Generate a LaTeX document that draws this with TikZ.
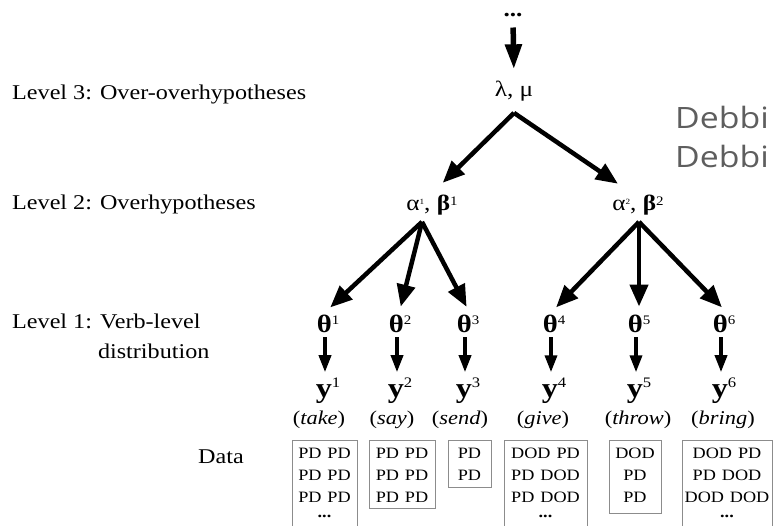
\documentclass[tikz,border=0pt]{standalone}
\usepackage{fontspec}
\setmainfont[FakeStretch=1.15]{Liberation Serif}
\newfontfamily\wmfont[FakeStretch=1.15]{Open Sans}
\usetikzlibrary{arrows.meta}
\definecolor{boxline}{HTML}{8C8C8C}
\definecolor{wmgray}{HTML}{5E5E5E}
\newcommand{\upidx}[3]{\raisebox{#1}{\fontsize{#2}{#2}\selectfont\mdseries #3}}
\newcommand{\rows}[1]{\spaceskip=0.38em\relax\begin{tabular}[t]{@{}c@{}}#1\end{tabular}}

\begin{document}
\begin{tikzpicture}[x=1pt, y=-1pt,
  every node/.style={inner sep=2pt},
  lvl/.style={anchor=base west, align=left, inner sep=0pt,
              font=\fontsize{21}{30}\selectfont},
  hyp/.style={anchor=base, font=\fontsize{22}{22}\selectfont},
  th/.style={anchor=base, inner sep=3pt, outer sep=2pt,
             font=\fontsize{25}{25}\selectfont\bfseries},
  obs/.style={anchor=base, inner sep=5pt,
              font=\fontsize{28}{28}\selectfont\bfseries},
  verb/.style={anchor=base, font=\fontsize{19.5}{19.5}\selectfont},
  databox/.style={anchor=base, draw=boxline, line width=0.9pt,
                  inner xsep=0pt, inner ysep=0pt, text height=18pt,
                  font=\fontsize{15.8}{22}\selectfont},
  artop/.style={-{Triangle[width=16pt,length=25pt]}, line width=5.5pt},
  ar/.style={-{Triangle[width=18pt,length=22pt]}, line width=4.5pt},
  arsm/.style={-{Triangle[width=12pt,length=17pt]}, line width=3.5pt}
]
\path[use as bounding box, clip] (0,0) rectangle (775,526);

% level labels
\node[lvl] (lv3) at (12,100) {Level 3: Over-overhypotheses};
\node[lvl] (lv2) at (12,210) {Level 2: Overhypotheses};
\node[lvl] (lv1) at (12,358) {Level 1: Verb-level\\\phantom{Level 1:} distribution};
\node[lvl, anchor=base] (data) at (221,463) {Data};

\node[anchor=base west, align=left, inner sep=0pt, text=wmgray,
  font=\wmfont\fontsize{29.4}{39}\selectfont] (wm) at (675,168) {Debbi\\Debbi};

% hyperparameters
\node[hyp, font=\fontsize{22}{22}\selectfont\bfseries] (topdots) at (513,17) {...};
\node[hyp] (lam) at (514,97) {λ, μ};
\node[hyp] (ab1) at (432,211) {α\upidx{6pt}{8}{1}, \textbf{β}\upidx{5pt}{13}{1}};
\node[hyp] (ab2) at (638,211) {α\upidx{6pt}{8}{2}, \textbf{β}\upidx{5pt}{13}{2}};

\coordinate (lamfork) at ([yshift=-9pt]lam.south);
\coordinate (abfork1) at ([xshift=-10pt,yshift=-4pt]ab1.south);
\coordinate (abfork2) at ([xshift=1pt,yshift=-4pt]ab2.south);

\draw[artop, shorten <=8pt, shorten >=10pt] (topdots.south) -- (lam.north);
\draw[ar, shorten >=15pt] (lamfork) -- (ab1.north);
\draw[ar, shorten >=17pt] (lamfork) -- ([xshift=-6pt]ab2.north);

% verb-level distributions and observations
\foreach \i/\x in {1/328,2/400,3/468,4/554,5/639,6/724}{
  \node[th] (t\i) at (\x,332) {θ\upidx{8pt}{13}{\i}};
  \node[obs] (y\i) at (\x,397) {y\upidx{10pt}{14.5}{\i}};
  \draw[arsm] ([xshift=-3pt]t\i.south) -- ([xshift=-3pt]y\i.north);
}
\foreach \i in {1,2,3}
  \draw[ar, shorten >=3pt] (abfork1) -- (t\i.north);
\foreach \i in {4,5,6}
  \draw[ar, shorten >=3pt] (abfork2) -- (t\i.north);

\node[verb] (v1) at (319,424) {(\textit{take})};
\node[verb] (v2) at (392,424) {(\textit{say})};
\node[verb] (v3) at (460,424) {(\textit{send})};
\node[verb] (v4) at (543,424) {(\textit{give})};
\node[verb] (v5) at (638,424) {(\textit{throw})};
\node[verb] (v6) at (723,424) {(\textit{bring})};

% data boxes
\node[databox, minimum width=65pt, text depth=80pt] (d1) at (324.5,458)
  {\rows{PD PD\\PD PD\\PD PD\\[-7pt]\textbf{...}}};
\node[databox, minimum width=66pt, text depth=50pt] (d2) at (402,458)
  {\rows{PD PD\\PD PD\\PD PD}};
\node[databox, minimum width=43pt, text depth=29pt] (d3) at (469.5,458)
  {\rows{PD\\PD}};
\node[databox, minimum width=83pt, text depth=80pt] (d4) at (545.5,458)
  {\rows{DOD PD\\PD DOD\\PD DOD\\[-7pt]\textbf{...}}};
\node[databox, minimum width=52pt, text depth=55pt] (d5) at (635,458)
  {\rows{DOD\\PD\\PD}};
\node[databox, minimum width=90pt, text depth=80pt] (d6) at (727,458)
  {\rows{DOD PD\\PD DOD\\DOD DOD\\[-7pt]\textbf{...}}};
\end{tikzpicture}
\end{document}
